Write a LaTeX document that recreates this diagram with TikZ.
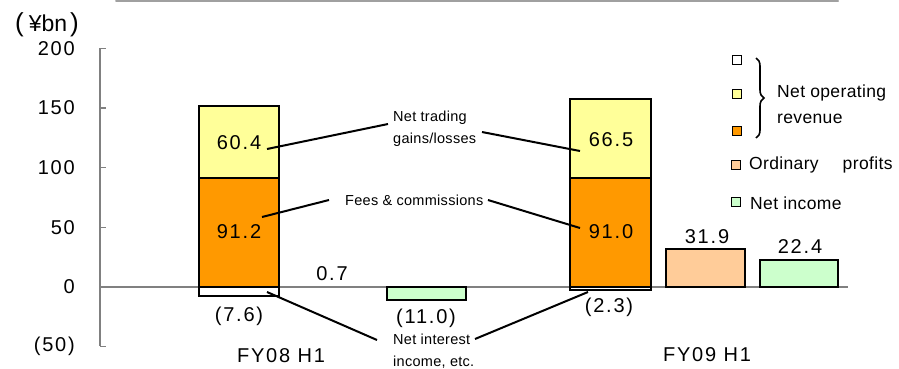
\documentclass[tikz,border=0pt]{standalone}
\usepackage{fontspec}
\setmainfont[LetterSpace=9]{Liberation Sans}
\newfontfamily\notefont[LetterSpace=2]{Liberation Sans}
\newfontfamily\plainfont{Liberation Sans}
\usetikzlibrary{decorations.pathreplacing}

\definecolor{tradeyellow}{HTML}{FFFF99}
\definecolor{feeorange}{HTML}{FF9900}
\definecolor{ordpeach}{HTML}{FFCC99}
\definecolor{incgreen}{HTML}{CCFFCC}
\definecolor{axisgray}{HTML}{808080}
\definecolor{framegray}{HTML}{A0A0A0}

\begin{document}
\begin{tikzpicture}[x=1pt,y=-1pt,
  bar/.style={draw=black,line width=2pt},
  val/.style={font=\fontsize{20}{22}\selectfont,inner sep=0pt},
  note/.style={font=\notefont\fontsize{14.5}{22}\selectfont,align=left,inner sep=0pt,anchor=west},
  lead/.style={draw=black,line width=2pt},
  legsq/.style={draw=black,line width=1.8pt,minimum size=9pt,inner sep=0pt},
  legtxt/.style={font=\notefont\fontsize{17.5}{26}\selectfont,anchor=west,inner sep=0pt,align=left},
  ticklbl/.style={font=\fontsize{20}{22}\selectfont,anchor=east,inner sep=0pt},
  axisline/.style={draw=axisgray,line width=1.4pt},
]
\useasboundingbox (0,0) rectangle (899,368);

% frame edge along the top
\draw[framegray,line width=2pt,line cap=round] (116,0.5) -- (838,0.5);

% unit label
\node[font=\plainfont\fontsize{23}{26}\selectfont,inner sep=0pt] (unit) at (47,25)
  {{\fontsize{26}{28}\selectfont(}\hspace{5pt}¥bn\hspace{3pt}{\fontsize{26}{28}\selectfont)}};

% value axis with ticks
\coordinate (axtop) at (100,48);
\coordinate (axbot) at (100,346);
\draw[axisline] (axtop) -- (axbot);
\foreach \v/\lab in {200/200,150/150,100/100,50/50,0/0,-50/(50)}{
  \pgfmathsetmacro{\yy}{287-\v*1.194}
  \draw[axisline] (100,\yy) -- (106,\yy);
  \node[ticklbl] (tick\v) at (75,\yy) {\lab};
}

% zero line
\coordinate (zl) at (100,287);
\coordinate (zr) at (848,287);
\draw[draw=axisgray,line width=1.4pt] (zl) -- (zr);

% FY08 H1 bars
\draw[bar,fill=white]       (199,287)   rectangle (279,296.1);
\draw[bar,fill=feeorange]   (199,178.1) rectangle (279,287);
\draw[bar,fill=tradeyellow] (199,106)   rectangle (279,178.1);
\draw[bar,fill=incgreen]    (387,287)   rectangle (466,300.1);

% FY09 H1 bars
\draw[bar,fill=white]       (570,287)   rectangle (651,289.7);
\draw[bar,fill=feeorange]   (570,178.4) rectangle (651,287);
\draw[bar,fill=tradeyellow] (570,99)    rectangle (651,178.4);
\draw[bar,fill=ordpeach]    (666,248.9) rectangle (745,287);
\draw[bar,fill=incgreen]    (760,260.3) rectangle (838,287);

% values
\node[val] (v604) at (239,143) {60.4};
\node[val] (v912) at (239,232) {91.2};
\node[val] (v76)  at (239,316) {(7.6)};
\node[val] (v07)  at (332,274) {0.7};
\node[val] (v110) at (426,318) {(11.0)};
\node[val] (v665) at (611,140) {66.5};
\node[val] (v910) at (611,232) {91.0};
\node[val] (v23)  at (609,307) {(2.3)};
\node[val] (v319) at (707,237) {31.9};
\node[val] (v224) at (800,247) {22.4};

% period labels
\node[val] (fy08) at (281,356) {FY08 H1};
\node[val] (fy09) at (707,355) {FY09 H1};

% callouts
\node[note] (trade) at (393,129) {Net trading\\gains/losses};
\node[note] (fees)  at (345,200) {Fees \& commissions};
\node[note] (nii)   at (393,351) {Net interest\\income, etc.};

\coordinate (trA) at (267,149);
\coordinate (trB) at (388,124);
\coordinate (trC) at (482,132);
\coordinate (trD) at (580,151);
\draw[lead] (trA) -- (trB);
\draw[lead] (trC) -- (trD);

\coordinate (feA) at (262,217);
\coordinate (feB) at (329,200);
\coordinate (feC) at (488,200);
\coordinate (feD) at (580,228);
\draw[lead] (feA) -- (feB);
\draw[lead] (feC) -- (feD);

\coordinate (niA) at (267,292);
\coordinate (niB) at (377,340);
\coordinate (niC) at (475,339);
\coordinate (niD) at (588,292);
\draw[lead] (niA) -- (niB);
\draw[lead] (niC) -- (niD);

% legend
\node[legsq,fill=white]       (lg1) at (737,60)  {};
\node[legsq,fill=tradeyellow] (lg2) at (737,94)  {};
\node[legsq,fill=feeorange]   (lg3) at (737,131) {};
\node[legsq,fill=ordpeach]    (lg4) at (736,165) {};
\node[legsq,fill=incgreen]    (lg5) at (736,202) {};
\coordinate (brtop) at (756,58);
\coordinate (brbot) at (756,138);
\draw[line width=1.6pt,decorate,decoration={brace,amplitude=8pt}] (brtop) -- (brbot);
\node[legtxt] (lgrev) at (777,104) {Net operating\\revenue};
\node[legtxt] (lgord) at (749,165) {Ordinary\hspace{24pt}profits};
\node[legtxt] (lginc) at (750,203) {Net income};
\end{tikzpicture}
\end{document}
